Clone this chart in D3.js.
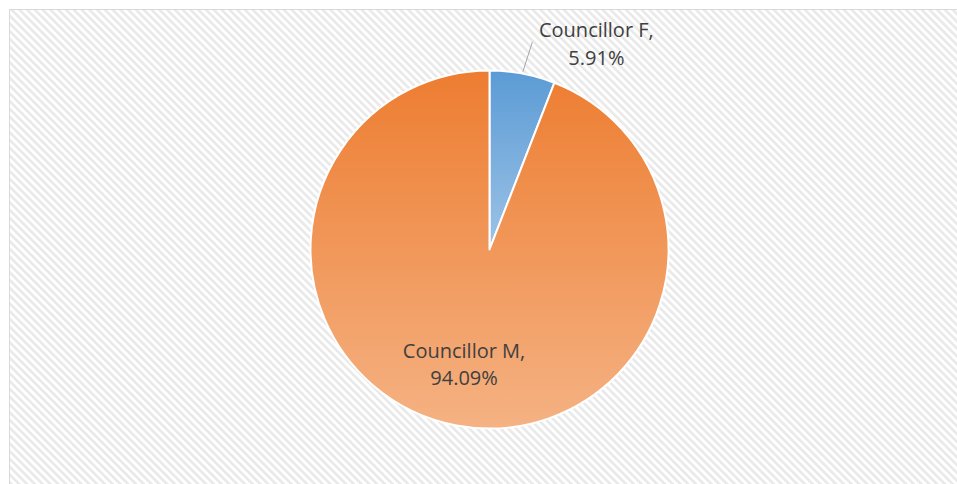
<!DOCTYPE html>
<html lang="en">
<head>
<meta charset="UTF-8">
<title>Councillor Pie</title>
<script src="https://cdn.jsdelivr.net/npm/d3@7"></script>
<style>
  html, body { margin: 0; padding: 0; background: #fff; }
  text { font-family: "Open Sans", Lato, sans-serif; fill: #404040; }
</style>
</head>
<body>
<div id="chart"></div>
<script>
// data
const categories = ["Councillor F", "Councillor M"];
const shares = [5.91, 94.09];
const labelTexts = ["5.91%", "94.09%"];
const gradStops = [
  ["#5B9BD5", "#9DC3E6"],
  ["#ED7D31", "#F5B283"]
];

const width = 957, height = 484;
const cx = 489.5, cy = 249.5, radius = 179;

const svg = d3.select("#chart").append("svg")
  .attr("width", width)
  .attr("height", height)
  .style("display", "block");

const defs = svg.append("defs");

// diagonal hatch background like the excel chart area
const pat = defs.append("pattern")
  .attr("id", "hatch")
  .attr("patternUnits", "userSpaceOnUse")
  .attr("width", 5.5)
  .attr("height", 5.5)
  .attr("patternTransform", "rotate(-45)");
pat.append("rect").attr("width", 5.5).attr("height", 5.5).attr("fill", "#fff");
pat.append("rect").attr("width", 2.6).attr("height", 5.5).attr("fill", "#e9e9e9");

gradStops.forEach((c, i) => {
  const g = defs.append("linearGradient")
    .attr("id", "grad" + i)
    .attr("x1", 0).attr("y1", 0).attr("x2", 0).attr("y2", 1);
  g.append("stop").attr("offset", "0%").attr("stop-color", c[0]);
  g.append("stop").attr("offset", "100%").attr("stop-color", c[1]);
});

svg.append("rect")
  .attr("x", 9.5).attr("y", 9.5)
  .attr("width", width).attr("height", height)
  .attr("fill", "url(#hatch)")
  .attr("stroke", "#d9d9d9")
  .attr("stroke-width", 1);

const g = svg.append("g").attr("transform", `translate(${cx},${cy})`);

const pie = d3.pie().sort(null).value(d => d);
const arcs = pie(shares);
const arc = d3.arc().innerRadius(0).outerRadius(radius);

g.selectAll("path.slice")
  .data(arcs)
  .join("path")
  .attr("class", "slice")
  .attr("d", arc)
  .attr("fill", (d, i) => `url(#grad${i})`)
  .attr("stroke", "#fff")
  .attr("stroke-width", 2)
  .attr("stroke-linejoin", "round");

const fontSize = 20;

// Councillor F: outside with leader line
const f = arcs[0];
const midF = (f.startAngle + f.endAngle) / 2;
const p0 = d3.arc().innerRadius(radius + 2).outerRadius(radius + 2).centroid(f);
const lEnd = [Math.sin(midF + 0.018) * 212, -Math.cos(midF + 0.018) * 212];
g.append("line")
  .attr("x1", p0[0]).attr("y1", p0[1])
  .attr("x2", lEnd[0]).attr("y2", lEnd[1])
  .attr("stroke", "#a6a6a6")
  .attr("stroke-width", 1);

const tF = g.append("text")
  .attr("text-anchor", "middle")
  .style("font-size", fontSize + "px");
tF.append("tspan").attr("x", lEnd[0] + 64).attr("y", lEnd[1] - 5)
  .text(categories[0] + ",");
tF.append("tspan").attr("x", lEnd[0] + 64).attr("y", lEnd[1] + 23)
  .text(labelTexts[0]);

// Councillor M: inside the slice
const m = arcs[1];
const pm = d3.arc().innerRadius(radius * 0.65).outerRadius(radius * 0.65).centroid(m);
const tM = g.append("text")
  .attr("text-anchor", "middle")
  .style("font-size", fontSize + "px");
tM.append("tspan").attr("x", pm[0] - 4).attr("y", pm[1] - 6)
  .text(categories[1] + ",");
tM.append("tspan").attr("x", pm[0] - 4).attr("y", pm[1] + 21)
  .text(labelTexts[1]);
</script>
</body>
</html>
